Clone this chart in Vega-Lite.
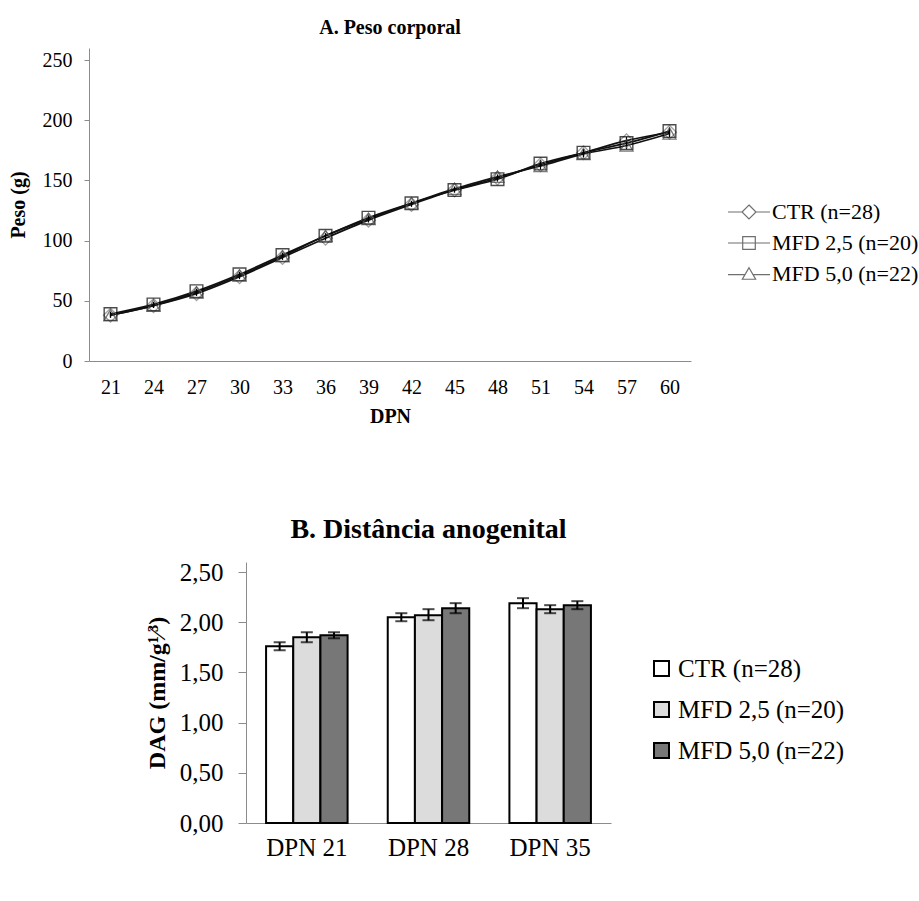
{
  "$schema": "https://vega.github.io/schema/vega-lite/v6.json",
  "padding": {"left": 8, "top": 18, "right": 0, "bottom": 0},
  "background": "white",
  "datasets": {
    "peso": [
      {"dpn": 21, "group": "CTR (n=28)", "peso": 38, "lo": 36, "hi": 40},
      {"dpn": 24, "group": "CTR (n=28)", "peso": 46, "lo": 44, "hi": 48},
      {"dpn": 27, "group": "CTR (n=28)", "peso": 56, "lo": 54, "hi": 58},
      {"dpn": 30, "group": "CTR (n=28)", "peso": 70, "lo": 68, "hi": 72},
      {"dpn": 33, "group": "CTR (n=28)", "peso": 86, "lo": 84, "hi": 88},
      {"dpn": 36, "group": "CTR (n=28)", "peso": 102, "lo": 100, "hi": 104},
      {"dpn": 39, "group": "CTR (n=28)", "peso": 117, "lo": 115, "hi": 119},
      {"dpn": 42, "group": "CTR (n=28)", "peso": 130, "lo": 128, "hi": 132},
      {"dpn": 45, "group": "CTR (n=28)", "peso": 142, "lo": 140, "hi": 144},
      {"dpn": 48, "group": "CTR (n=28)", "peso": 152, "lo": 150, "hi": 154},
      {"dpn": 51, "group": "CTR (n=28)", "peso": 163, "lo": 161, "hi": 165},
      {"dpn": 54, "group": "CTR (n=28)", "peso": 173, "lo": 170, "hi": 176},
      {"dpn": 57, "group": "CTR (n=28)", "peso": 183, "lo": 180, "hi": 186},
      {"dpn": 60, "group": "CTR (n=28)", "peso": 190, "lo": 187, "hi": 193},
      {"dpn": 21, "group": "MFD 2,5 (n=20)", "peso": 39, "lo": 37, "hi": 41},
      {"dpn": 24, "group": "MFD 2,5 (n=20)", "peso": 47, "lo": 45, "hi": 49},
      {"dpn": 27, "group": "MFD 2,5 (n=20)", "peso": 58, "lo": 56, "hi": 60},
      {"dpn": 30, "group": "MFD 2,5 (n=20)", "peso": 72, "lo": 70, "hi": 74},
      {"dpn": 33, "group": "MFD 2,5 (n=20)", "peso": 88, "lo": 86, "hi": 90},
      {"dpn": 36, "group": "MFD 2,5 (n=20)", "peso": 104, "lo": 102, "hi": 106},
      {"dpn": 39, "group": "MFD 2,5 (n=20)", "peso": 119, "lo": 117, "hi": 121},
      {"dpn": 42, "group": "MFD 2,5 (n=20)", "peso": 131, "lo": 129, "hi": 133},
      {"dpn": 45, "group": "MFD 2,5 (n=20)", "peso": 142, "lo": 140, "hi": 144},
      {"dpn": 48, "group": "MFD 2,5 (n=20)", "peso": 151, "lo": 149, "hi": 153},
      {"dpn": 51, "group": "MFD 2,5 (n=20)", "peso": 164, "lo": 161, "hi": 167},
      {"dpn": 54, "group": "MFD 2,5 (n=20)", "peso": 173, "lo": 170, "hi": 176},
      {"dpn": 57, "group": "MFD 2,5 (n=20)", "peso": 181, "lo": 178, "hi": 184},
      {"dpn": 60, "group": "MFD 2,5 (n=20)", "peso": 191, "lo": 188, "hi": 194},
      {"dpn": 21, "group": "MFD 5,0 (n=22)", "peso": 38, "lo": 36, "hi": 40},
      {"dpn": 24, "group": "MFD 5,0 (n=22)", "peso": 46, "lo": 44, "hi": 48},
      {"dpn": 27, "group": "MFD 5,0 (n=22)", "peso": 57, "lo": 55, "hi": 59},
      {"dpn": 30, "group": "MFD 5,0 (n=22)", "peso": 71, "lo": 69, "hi": 73},
      {"dpn": 33, "group": "MFD 5,0 (n=22)", "peso": 87, "lo": 85, "hi": 89},
      {"dpn": 36, "group": "MFD 5,0 (n=22)", "peso": 104, "lo": 102, "hi": 106},
      {"dpn": 39, "group": "MFD 5,0 (n=22)", "peso": 118, "lo": 116, "hi": 120},
      {"dpn": 42, "group": "MFD 5,0 (n=22)", "peso": 131, "lo": 129, "hi": 133},
      {"dpn": 45, "group": "MFD 5,0 (n=22)", "peso": 143, "lo": 141, "hi": 145},
      {"dpn": 48, "group": "MFD 5,0 (n=22)", "peso": 153, "lo": 151, "hi": 155},
      {"dpn": 51, "group": "MFD 5,0 (n=22)", "peso": 162, "lo": 159, "hi": 165},
      {"dpn": 54, "group": "MFD 5,0 (n=22)", "peso": 172, "lo": 169, "hi": 175},
      {"dpn": 57, "group": "MFD 5,0 (n=22)", "peso": 179, "lo": 176, "hi": 182},
      {"dpn": 60, "group": "MFD 5,0 (n=22)", "peso": 189, "lo": 186, "hi": 192}
    ],
    "dag": [
      {"age": "DPN 21", "group": "CTR (n=28)", "dag": 1.76, "lo": 1.72, "hi": 1.80},
      {"age": "DPN 21", "group": "MFD 2,5 (n=20)", "dag": 1.85, "lo": 1.80, "hi": 1.90},
      {"age": "DPN 21", "group": "MFD 5,0 (n=22)", "dag": 1.87, "lo": 1.84, "hi": 1.90},
      {"age": "DPN 28", "group": "CTR (n=28)", "dag": 2.05, "lo": 2.01, "hi": 2.09},
      {"age": "DPN 28", "group": "MFD 2,5 (n=20)", "dag": 2.07, "lo": 2.02, "hi": 2.13},
      {"age": "DPN 28", "group": "MFD 5,0 (n=22)", "dag": 2.14, "lo": 2.09, "hi": 2.19},
      {"age": "DPN 35", "group": "CTR (n=28)", "dag": 2.19, "lo": 2.14, "hi": 2.24},
      {"age": "DPN 35", "group": "MFD 2,5 (n=20)", "dag": 2.13, "lo": 2.09, "hi": 2.17},
      {"age": "DPN 35", "group": "MFD 5,0 (n=22)", "dag": 2.17, "lo": 2.13, "hi": 2.21}
    ]
  },
  "config": {
    "view": {"stroke": null},
    "font": "Liberation Serif",
    "axis": {
      "labelFont": "Liberation Serif",
      "titleFont": "Liberation Serif",
      "labelColor": "black",
      "titleColor": "black",
      "domainColor": "#8c8c8c",
      "tickColor": "#8c8c8c",
      "grid": false
    },
    "legend": {"labelFont": "Liberation Serif", "labelColor": "black", "padding": 0, "labelLimit": 400},
    "title": {"font": "Liberation Serif", "color": "black", "fontWeight": "bold", "anchor": "middle"}
  },
  "resolve": {
    "scale": {"fill": "independent", "shape": "independent", "stroke": "independent", "x": "independent", "y": "independent"},
    "legend": {"fill": "independent", "shape": "independent", "stroke": "independent"}
  },
  "spacing": 90,
  "vconcat": [
    {
      "width": 602,
      "height": 313,
      "title": {"text": "A. Peso corporal", "fontSize": 20, "font": "Liberation Serif", "offset": 10},
      "data": {"name": "peso"},
      "encoding": {
        "x": {
          "field": "dpn",
          "type": "ordinal",
          "scale": {"type": "point", "padding": 0.5},
          "axis": {"labelAngle": 0, "ticks": false, "labelFont": "Liberation Serif", "labelFontSize": 20, "labelPadding": 16, "title": "DPN", "titleFont": "Liberation Serif", "titleFontSize": 20, "titleFontWeight": "bold", "titlePadding": 9}
        }
      },
      "layer": [
        {
          "mark": {"type": "line", "interpolate": "monotone", "strokeWidth": 1.7, "color": "#111"},
          "encoding": {
            "y": {
              "field": "peso",
              "type": "quantitative",
              "scale": {"domain": [0, 250]},
              "axis": {"values": [0, 50, 100, 150, 200, 250], "tickSize": 5, "labelFont": "Liberation Serif", "labelFontSize": 20, "labelPadding": 12, "title": "Peso (g)", "titleFont": "Liberation Serif", "titleFontSize": 20, "titleFontWeight": "bold", "titlePadding": 14}
            },
            "detail": {"field": "group"}
          }
        },
        {
          "mark": {"type": "rule", "color": "black", "strokeWidth": 1.2},
          "encoding": {
            "y": {"field": "lo", "type": "quantitative"},
            "y2": {"field": "hi"}
          }
        },
        {
          "transform": [{"filter": "datum.group === 'CTR (n=28)'"}],
          "mark": {"type": "point", "shape": "diamond", "filled": false, "size": 190, "strokeWidth": 1.3, "stroke": "#7a7a7a"},
          "encoding": {"y": {"field": "peso", "type": "quantitative"}}
        },
        {
          "transform": [{"filter": "datum.group === 'MFD 2,5 (n=20)'"}],
          "mark": {"type": "point", "shape": "square", "filled": false, "size": 160, "strokeWidth": 1.4, "stroke": "#000000"},
          "encoding": {"y": {"field": "peso", "type": "quantitative"}}
        },
        {
          "transform": [{"filter": "datum.group === 'MFD 5,0 (n=22)'"}],
          "mark": {"type": "point", "shape": "triangle-up", "filled": false, "size": 170, "strokeWidth": 1.3, "stroke": "#444444"},
          "encoding": {"y": {"field": "peso", "type": "quantitative"}}
        },
        {
          "transform": [{"filter": "false"}],
          "mark": {"type": "point", "filled": false, "strokeWidth": 1.2, "color": "#333333"},
          "encoding": {
            "y": {"field": "peso", "type": "quantitative"},
            "shape": {
              "field": "group",
              "type": "nominal",
              "scale": {
                "domain": ["CTR (n=28)", "MFD 2,5 (n=20)", "MFD 5,0 (n=22)"],
                "range": [
                  "M-3,0L-1,0M1,0L3,0M0,-1L1,0L0,1L-1,0Z",
                  "M-3,0L3,0M-0.9,-0.9L0.9,-0.9L0.9,0.9L-0.9,0.9Z",
                  "M-3,0.1L-0.55,0.1M0.55,0.1L3,0.1M0,-0.9L0.95,0.75L-0.95,0.75Z"
                ]
              },
              "legend": {
                "title": null,
                "orient": "none",
                "legendX": 649,
                "legendY": 153,
                "symbolSize": 196,
                "symbolStrokeWidth": 1.2,
                "symbolStrokeColor": "#333333",
                "symbolFillColor": "transparent",
                "labelFont": "Liberation Serif",
                "labelFontSize": 22,
                "labelOffset": 12,
                "rowPadding": 9
              }
            }
          }
        }
      ]
    },
    {
      "hconcat": [
        {
          "width": 36,
          "height": 10,
          "data": {"values": []},
          "mark": "point"
        },
        {
          "width": 365,
          "height": 261,
          "title": {"text": "B. Distância anogenital", "fontSize": 28, "font": "Liberation Serif", "offset": 16},
          "data": {"name": "dag"},
          "encoding": {
            "x": {
              "field": "age",
              "type": "nominal",
              "scale": {"paddingInner": 0.33, "paddingOuter": 0.165},
              "axis": {"labelAngle": 0, "ticks": false, "labelFont": "Liberation Serif", "labelFontSize": 25, "labelPadding": 12, "title": null}
            },
            "xOffset": {
              "field": "group",
              "type": "nominal",
              "sort": ["CTR (n=28)", "MFD 2,5 (n=20)", "MFD 5,0 (n=22)"],
              "scale": {"paddingInner": 0, "paddingOuter": 0}
            }
          },
          "layer": [
            {
              "mark": {"type": "bar", "stroke": "black", "strokeWidth": 2},
              "encoding": {
                "y": {
                  "field": "dag",
                  "type": "quantitative",
                  "scale": {"domain": [0, 2.5]},
                  "axis": {"values": [0, 0.5, 1, 1.5, 2, 2.5], "labelExpr": "replace(format(datum.value, '.2f'), '.', ',')", "tickSize": 8, "labelFont": "Liberation Serif", "labelFontSize": 25, "labelPadding": 15, "title": "DAG (mm/g¹⁄³)", "titleFont": "Liberation Serif", "titleFontSize": 24, "titleFontWeight": "bold", "titlePadding": 10}
                },
                "fill": {
                  "field": "group",
                  "type": "nominal",
                  "scale": {"domain": ["CTR (n=28)", "MFD 2,5 (n=20)", "MFD 5,0 (n=22)"], "range": ["#ffffff", "#dcdcdc", "#777777"]},
                  "legend": {
                    "title": null,
                    "orient": "none",
                    "legendX": 560,
                    "legendY": 94,
                    "symbolType": "square",
                    "symbolSize": 225,
                    "symbolStrokeColor": "black",
                    "symbolStrokeWidth": 2,
                    "labelFont": "Liberation Serif",
                    "labelFontSize": 25,
                    "labelOffset": 4,
                    "labelLimit": 400,
                    "rowPadding": 15
                  }
                }
              }
            },
            {
              "mark": {"type": "rule", "color": "black", "strokeWidth": 2},
              "encoding": {
                "y": {"field": "lo", "type": "quantitative"},
                "y2": {"field": "hi"}
              }
            },
            {
              "mark": {"type": "tick", "color": "black", "thickness": 2, "size": 12},
              "encoding": {"y": {"field": "lo", "type": "quantitative"}}
            },
            {
              "mark": {"type": "tick", "color": "black", "thickness": 2, "size": 12},
              "encoding": {"y": {"field": "hi", "type": "quantitative"}}
            }
          ]
        }
      ]
    }
  ]
}
